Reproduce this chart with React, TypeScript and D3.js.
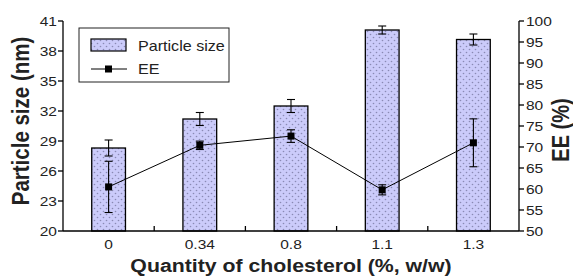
import React from "react";
import * as d3 from "d3";

const categories = ["0", "0.34", "0.8", "1.1", "1.3"];
const particleSize = [28.3, 31.2, 32.5, 40.1, 39.15];
const particleErr = [0.8, 0.65, 0.65, 0.4, 0.55];
const eeValues = [60.5, 70.4, 72.6, 59.8, 71.0];
const eeErr = [6.1, 1.0, 1.5, 1.2, 5.7];
const leftTicks = [20, 23, 26, 29, 32, 35, 38, 41];
const rightTicks = [50, 55, 60, 65, 70, 75, 80, 85, 90, 95, 100];

const W = 573;
const H = 278;
const L = 63;
const R = 519;
const T = 21;
const B = 231;
const FONT = "'Liberation Sans', Arial, Helvetica, sans-serif";

export default function App() {
  const x = d3.scaleBand<string>().domain(categories).range([L, R]).padding(0);
  const yL = d3.scaleLinear().domain([20, 41]).range([B, T]);
  const yR = d3.scaleLinear().domain([50, 100]).range([B, T]);
  const bw = x.bandwidth() * 0.37;
  const cx = (c: string) => (x(c) as number) + x.bandwidth() / 2;
  const line = d3
    .line<number>()
    .x((_, i) => cx(categories[i]))
    .y((d) => yR(d));
  const cap = 4;
  const sx = 1.15;

  return (
    <svg
      width={W}
      height={H}
      style={{ position: "absolute", left: 0, top: 0, background: "#fff" }}
      fontFamily={FONT}
    >
      <defs>
        <pattern id="dots" width="6" height="6" patternUnits="userSpaceOnUse">
          <rect width="6" height="6" fill="#cbcbfa" />
          <circle cx="1.5" cy="1.5" r="0.8" fill="#8a8ab4" />
          <circle cx="4.5" cy="4.5" r="0.8" fill="#8a8ab4" />
        </pattern>
      </defs>
      <rect width={W} height={H} fill="#fff" />

      {/* bars */}
      {categories.map((c, i) => (
        <rect
          key={"b" + c}
          x={cx(c) - bw / 2}
          y={yL(particleSize[i])}
          width={bw}
          height={B - yL(particleSize[i])}
          fill="url(#dots)"
          stroke="#000"
          strokeWidth={1.3}
        />
      ))}
      {/* bar error bars */}
      {categories.map((c, i) => {
        const x0 = cx(c);
        const y1 = yL(particleSize[i] + particleErr[i]);
        const y2 = yL(particleSize[i] - particleErr[i]);
        return (
          <g key={"be" + c} stroke="#000" strokeWidth={1.1}>
            <line x1={x0} x2={x0} y1={y1} y2={y2} />
            <line x1={x0 - cap} x2={x0 + cap} y1={y1} y2={y1} />
            <line x1={x0 - cap} x2={x0 + cap} y1={y2} y2={y2} />
          </g>
        );
      })}

      {/* EE line */}
      <path d={line(eeValues) || ""} fill="none" stroke="#000" strokeWidth={1} />
      {categories.map((c, i) => {
        const x0 = cx(c);
        const y1 = yR(eeValues[i] + eeErr[i]);
        const y2 = yR(eeValues[i] - eeErr[i]);
        return (
          <g key={"ee" + c} stroke="#000" strokeWidth={1.1}>
            <line x1={x0} x2={x0} y1={y1} y2={y2} />
            <line x1={x0 - cap} x2={x0 + cap} y1={y1} y2={y1} />
            <line x1={x0 - cap} x2={x0 + cap} y1={y2} y2={y2} />
            <rect x={x0 - 3.5} y={yR(eeValues[i]) - 3.5} width={7} height={7} fill="#000" stroke="none" />
          </g>
        );
      })}

      {/* axes */}
      <g stroke="#000" strokeWidth={1.3} fill="none">
        <line x1={L} x2={L} y1={T} y2={B} />
        <line x1={R} x2={R} y1={T} y2={B} />
        <line x1={L} x2={R} y1={B} y2={B} />
        {leftTicks.map((t) => (
          <line key={"lt" + t} x1={L - 5} x2={L} y1={yL(t)} y2={yL(t)} />
        ))}
        {rightTicks.map((t) => (
          <line key={"rt" + t} x1={R} x2={R + 5} y1={yR(t)} y2={yR(t)} />
        ))}
        {categories.slice(1).map((c) => (
          <line key={"xt" + c} x1={x(c) as number} x2={x(c) as number} y1={B} y2={B - 5} />
        ))}
      </g>

      {/* tick labels */}
      <g fontSize={13.5} fill="#222">
        {leftTicks.map((t) => (
          <text
            key={"ll" + t}
            transform={`translate(${L - 6},${yL(t) + 5}) scale(${sx},1)`}
            textAnchor="end"
          >
            {t}
          </text>
        ))}
        {rightTicks.map((t) => (
          <text
            key={"rl" + t}
            transform={`translate(${R + 7},${yR(t) + 5}) scale(${sx},1)`}
            textAnchor="start"
          >
            {t}
          </text>
        ))}
        {categories.map((c) => (
          <text
            key={"xl" + c}
            transform={`translate(${cx(c)},${B + 18}) scale(${sx},1)`}
            textAnchor="middle"
          >
            {c}
          </text>
        ))}
      </g>

      {/* axis titles */}
      <g fontWeight="bold" fill="#222">
        <text
          transform={`translate(291,272) scale(${sx},1)`}
          textAnchor="middle"
          fontSize={18.5}
        >
          Quantity of cholesterol (%, w/w)
        </text>
        <text
          transform={`translate(29,121) scale(${sx},1) rotate(-90)`}
          textAnchor="middle"
          fontSize={20.5}
        >
          Particle size (nm)
        </text>
        <text
          transform={`translate(569,130) scale(${sx},1) rotate(-90)`}
          textAnchor="middle"
          fontSize={20}
        >
          EE (%)
        </text>
      </g>

      {/* legend */}
      <g>
        <rect x={79} y={28} width={150} height={54} fill="#fff" stroke="#222" strokeWidth={1} />
        <rect x={91} y={39} width={35} height={12} fill="url(#dots)" stroke="#000" strokeWidth={1.2} />
        <line x1={91} x2={127} y1={69} y2={69} stroke="#000" strokeWidth={1} />
        <rect x={105} y={65.5} width={7} height={7} fill="#000" />
        <g fontSize={14} fill="#222">
          <text transform={`translate(138,51) scale(${sx},1)`}>Particle size</text>
          <text transform={`translate(138,74) scale(${sx},1)`}>EE</text>
        </g>
      </g>
    </svg>
  );
}
